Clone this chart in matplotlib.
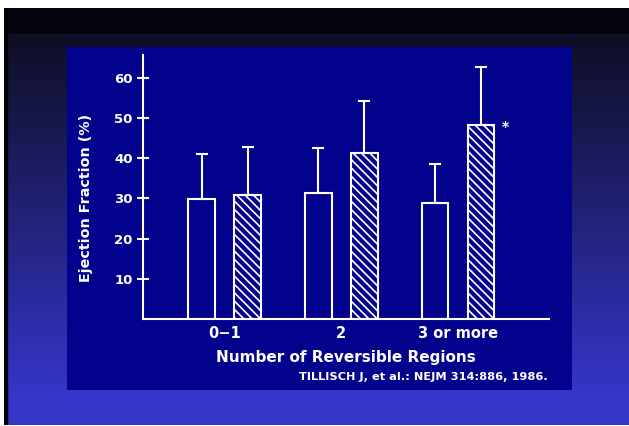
import numpy as np
import matplotlib
matplotlib.use('Agg')
import matplotlib.pyplot as plt
from matplotlib.patches import Rectangle

"""Recycle params for plotting"""
plt.rc('font', family = 'DejaVu Sans', weight = 'bold')
plt.rc('axes', labelweight = 'bold')
plt.rc('hatch', linewidth = 1.2)

# data
groups = ['0\u22121', '2', '3 or more']
open_vals = [29.8, 31.4, 28.8]
open_err = [11.2, 11.2, 9.7]
hatch_vals = [30.8, 41.4, 48.3]
hatch_err = [12.0, 12.8, 14.3]
yticks = [10, 20, 30, 40, 50, 60]
xlabel = 'Number of Reversible Regions'
ylabel = 'Ejection Fraction (%)'
citation = 'TILLISCH J, et al.: NEJM 314:886, 1986.'

W, H = 629, 426
fig = plt.figure(figsize = (W / 100, H / 100), dpi = 100, facecolor = 'white')

# slide background: black band on top, then dark navy to blue gradient
bg = fig.add_axes([4 / W, 1 / H, (W - 4) / W, (H - 9) / H])
bg.set_axis_off()
rows = np.arange(8, 425)
frac = np.clip((rows - 34) / (390 - 34), 0, 1)[:, None]
top = np.array([14, 14, 36]) / 255
bottom = np.array([53, 53, 200]) / 255
grad = top + (bottom - top) * frac
grad[rows < 34] = np.array([3, 3, 15]) / 255
bg.imshow(grad[:, None, :], aspect = 'auto', extent = [0, 1, 0, 1], interpolation = 'nearest')
bg.add_patch(Rectangle((0, 0), 3 / (W - 4), 1, color = 'black', transform = bg.transAxes))

# dark blue panel with the old figure on it
fig.patches.append(Rectangle((67 / W, 1 - 390 / H), (572 - 67) / W, (390 - 47) / H,
                             facecolor = '#02028c', edgecolor = 'none',
                             transform = fig.transFigure, zorder = 1))

ax = fig.add_axes([143 / W, 1 - 319.3 / H, 406 / W, (319.3 - 55) / H])
ax.patch.set_alpha(0)
ax.set_zorder(2)

x = np.arange(len(groups))
off = 0.197
width = 0.23

ax.bar(x - off, open_vals, width, facecolor = 'none', edgecolor = 'white', linewidth = 1.5)
ax.bar(x + off, hatch_vals, width, facecolor = 'none', edgecolor = 'white',
       linewidth = 1.5, hatch = '\\\\\\\\')
ax.errorbar(x - off, open_vals, yerr = [np.zeros(3), open_err], fmt = 'none',
            ecolor = 'white', elinewidth = 1.5, capsize = 4, capthick = 1.5)
ax.errorbar(x + off, hatch_vals, yerr = [np.zeros(3), hatch_err], fmt = 'none',
            ecolor = 'white', elinewidth = 1.5, capsize = 4, capthick = 1.5)

ax.annotate('*', xy = (x[2] + off + width / 2, hatch_vals[2]), xytext = (5, -2),
            textcoords = 'offset points', color = 'white', fontsize = 10,
            ha = 'left', va = 'center')

ax.set_xlim(-0.70, 2.78)
ax.set_ylim(0, 65.6)
ax.set_yticks(yticks)
ax.set_xticks(x)
ax.set_xticklabels(groups)

for s in ['top', 'right']:
    ax.spines[s].set_visible(False)
for s in ['left', 'bottom']:
    ax.spines[s].set_color('white')
    ax.spines[s].set_linewidth(1.5)

ax.tick_params(axis = 'y', direction = 'inout', length = 8.6, width = 1.5,
               color = 'white', labelcolor = 'white', labelsize = 9.5, pad = 3)
ax.tick_params(axis = 'x', length = 0, labelcolor = 'white', labelsize = 10.5, pad = 5)

ax.set_xlabel(xlabel, color = 'white', fontsize = 11, labelpad = 6)
ax.set_ylabel(ylabel, color = 'white', fontsize = 10.3)
ax.yaxis.set_label_coords(-0.123, 0.461)

fig.text(548 / W, 1 - 377.5 / H, citation, color = 'white', fontsize = 8.2,
         ha = 'right', va = 'center')

plt.savefig('out.png', dpi = 100)
